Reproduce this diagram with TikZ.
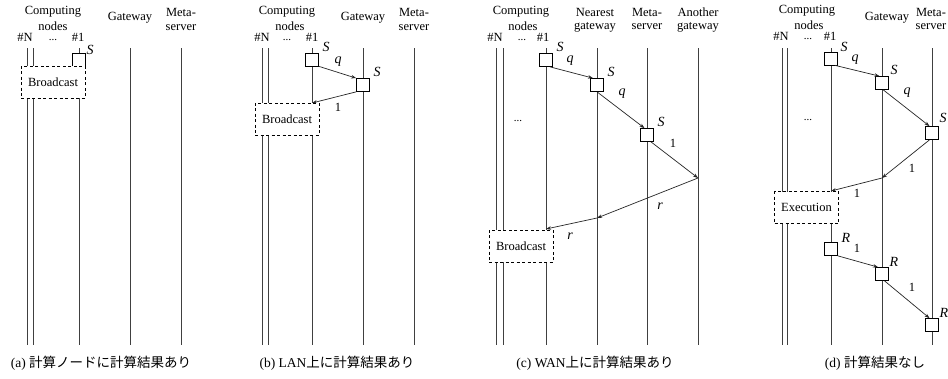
\documentclass[tikz,border=0pt]{standalone}
\usepackage{fontspec}
\setmainfont{Liberation Serif}
\newfontfamily\cjk{Noto Sans CJK JP}
\usetikzlibrary{arrows.meta}
\begin{document}
\begin{tikzpicture}[x=1pt,y=-1pt,
  life/.style={line width=0.7pt, black!75},
  msgbox/.style={draw, line width=0.7pt, fill=white, minimum size=13pt, inner sep=0pt},
  actbox/.style={draw, dash pattern=on 3pt off 2.5pt, line width=0.7pt, fill=white, inner sep=0pt,
     minimum width=64pt, minimum height=32pt, font=\fontsize{12.5}{13}\selectfont},
  msg/.style={line width=0.7pt, black!85, -{Stealth[length=5pt,width=3.5pt]}},
  hdr/.style={inner sep=0pt, font=\fontsize{12.5}{13}\selectfont},
  dots/.style={inner sep=0pt, font=\fontsize{11}{11}\selectfont},
  lab/.style={inner sep=0pt, font=\fontsize{14}{14}\selectfont\itshape},
  num/.style={inner sep=0pt, font=\fontsize{12.5}{13}\selectfont},
  captxt/.style={inner sep=0pt, font=\fontsize{13.5}{14}\selectfont}
]
\useasboundingbox (0,0) rectangle (948,378);
\fill[white] (0,0) rectangle (948,378);

% ---------------- lifelines ----------------
\foreach \n/\x in {aNa/27,aNb/33,aOne/79,aGw/130,aMs/181,
                   bNa/262,bNb/268,bOne/312,bGw/363,bMs/414,
                   cNa/496,cNb/503,cOne/546,cNg/597,cMs/647,cAg/698,
                   dNa/782,dNb/787,dOne/831,dGw/882,dMs/932}{
  \coordinate (\n t) at (\x,48);
  \coordinate (\n b) at (\x,345);
  \draw[life] (\n t) -- (\n b);
}

% ---------------- headers ----------------
% (a)
\node[hdr] (ahC) at (53,12) {Computing};
\node[hdr] (ahn) at (53,26.5) {nodes};
\node[hdr] (ahN) at (25,37.5) {\#N};
\node[dots] (ahd) at (53,40.5) {...};
\node[hdr] (ah1) at (78,37.5) {\#1};
\node[hdr] (ahG) at (130,18) {Gateway};
\node[hdr] (ahM) at (181,12.5) {Meta-};
\node[hdr] (ahs) at (181,27.5) {server};
% (b)
\node[hdr] (bhC) at (287,12) {Computing};
\node[hdr] (bhn) at (290,26.5) {nodes};
\node[hdr] (bhN) at (262,37.5) {\#N};
\node[dots] (bhd) at (287,40.5) {...};
\node[hdr] (bh1) at (312,37.5) {\#1};
\node[hdr] (bhG) at (363,18) {Gateway};
\node[hdr] (bhM) at (414,12.5) {Meta-};
\node[hdr] (bhs) at (414,27.5) {server};
% (c)
\node[hdr] (chC) at (521,12) {Computing};
\node[hdr] (chn) at (523,26.5) {nodes};
\node[hdr] (chN) at (495,37.5) {\#N};
\node[dots] (chd) at (522,40.5) {...};
\node[hdr] (ch1) at (543,37.5) {\#1};
\node[hdr] (chG1) at (595,12) {Nearest};
\node[hdr] (chG2) at (595,27) {gateway};
\node[hdr] (chM) at (647,12) {Meta-};
\node[hdr] (chs) at (647,27) {server};
\node[hdr] (chA1) at (698,12) {Another};
\node[hdr] (chA2) at (698,27) {gateway};
% (d)
\node[hdr] (dhC) at (807,11) {Computing};
\node[hdr] (dhn) at (809,25) {nodes};
\node[hdr] (dhN) at (781,36.5) {\#N};
\node[dots] (dhd) at (808,39.5) {...};
\node[hdr] (dh1) at (830,36.5) {\#1};
\node[hdr] (dhG) at (887,18) {Gateway};
\node[hdr] (dhM) at (931,12) {Meta-};
\node[hdr] (dhs) at (931,27) {server};

% ---------------- panel (a) ----------------
\node[msgbox] (a1) at (79,60) {};
\node[lab] (a1S) at (90,50) {S};
\node[actbox] (aB) at (53,82) {Broadcast};

% ---------------- panel (b) ----------------
\node[msgbox] (b1) at (312,59.5) {};
\node[lab] (b1S) at (326,47) {S};
\node[msgbox] (b2) at (363,85) {};
\node[lab] (b2S) at (377,72) {S};
\coordinate (b3) at (312,103);
\draw[msg] (b1.-45) -- (b2.135);
\draw[msg] (b2.-135) -- (b3);
\node[lab] (bq) at (338,62) {q};
\node[num] (bl) at (338,107) {1};
\node[actbox] (bB) at (287,119) {Broadcast};

% ---------------- panel (c) ----------------
\node[msgbox] (c1) at (546,60) {};
\node[lab] (c1S) at (560,47) {S};
\node[msgbox] (c2) at (597,85) {};
\node[lab] (c2S) at (611,72) {S};
\node[msgbox] (c3) at (647,135) {};
\node[lab] (c3S) at (661,122) {S};
\coordinate (c4) at (698,178);
\coordinate (c5) at (597,218);
\coordinate (c6) at (546,229);
\draw[msg] (c1.-60) -- (c2.120);
\draw[msg] (c2.-90) -- (c3.110);
\draw[msg] (c3.-60) -- (c4);
\draw[msg] (c4) -- (c5);
\draw[msg] (c5) -- (c6);
\node[lab] (cq1) at (570,61) {q};
\node[lab] (cq2) at (622,94) {q};
\node[num] (cl) at (673,143) {1};
\node[lab] (cr1) at (660,206) {r};
\node[lab] (cr2) at (570,236) {r};
\node[dots] (cdots) at (518,121) {...};
\node[actbox] (cB) at (521,246) {Broadcast};

% ---------------- panel (d) ----------------
\node[msgbox] (d1) at (831,58.5) {};
\node[lab] (d1S) at (844,47) {S};
\node[msgbox] (d2) at (882,83) {};
\node[lab] (d2S) at (894,70) {S};
\node[msgbox] (d3) at (932,133) {};
\node[lab] (d3S) at (943,118) {S};
\coordinate (d7) at (882,178);
\coordinate (d8) at (831,191);
\draw[msg] (d1.-60) -- (d2.110);
\draw[msg] (d2.-80) -- (d3.110);
\draw[msg] (d3.-110) -- (d7);
\draw[msg] (d7) -- (d8);
\node[lab] (dq1) at (855,60) {q};
\node[lab] (dq2) at (907,93) {q};
\node[num] (dl1) at (912,168) {1};
\node[num] (dl2) at (857,193) {1};
\node[dots] (ddots) at (808,120) {...};
\node[actbox] (dE) at (806.5,207.5) {Execution};
\node[msgbox] (d4) at (831,249) {};
\node[lab] (d4R) at (846,238) {R};
\node[msgbox] (d5) at (882,274) {};
\node[lab] (d5R) at (894,262) {R};
\node[msgbox] (d6) at (932,325) {};
\node[lab] (d6R) at (944,313) {R};
\draw[msg] (d4.-45) -- (d5.120);
\draw[msg] (d5.-70) -- (d6.110);
\node[num] (dl3) at (857,248) {1};
\node[num] (dl4) at (912,287) {1};

% ---------------- captions ----------------
\node[captxt] (capa) at (101,363) {(a) {\cjk 計算ノードに計算結果あり}};
\node[captxt] (capb) at (337,363) {(b) LAN{\cjk 上に計算結果あり}};
\node[captxt] (capc) at (595,363) {(c) WAN{\cjk 上に計算結果あり}};
\node[captxt] (capd) at (875,363) {(d) {\cjk 計算結果なし}};
\end{tikzpicture}
\end{document}
